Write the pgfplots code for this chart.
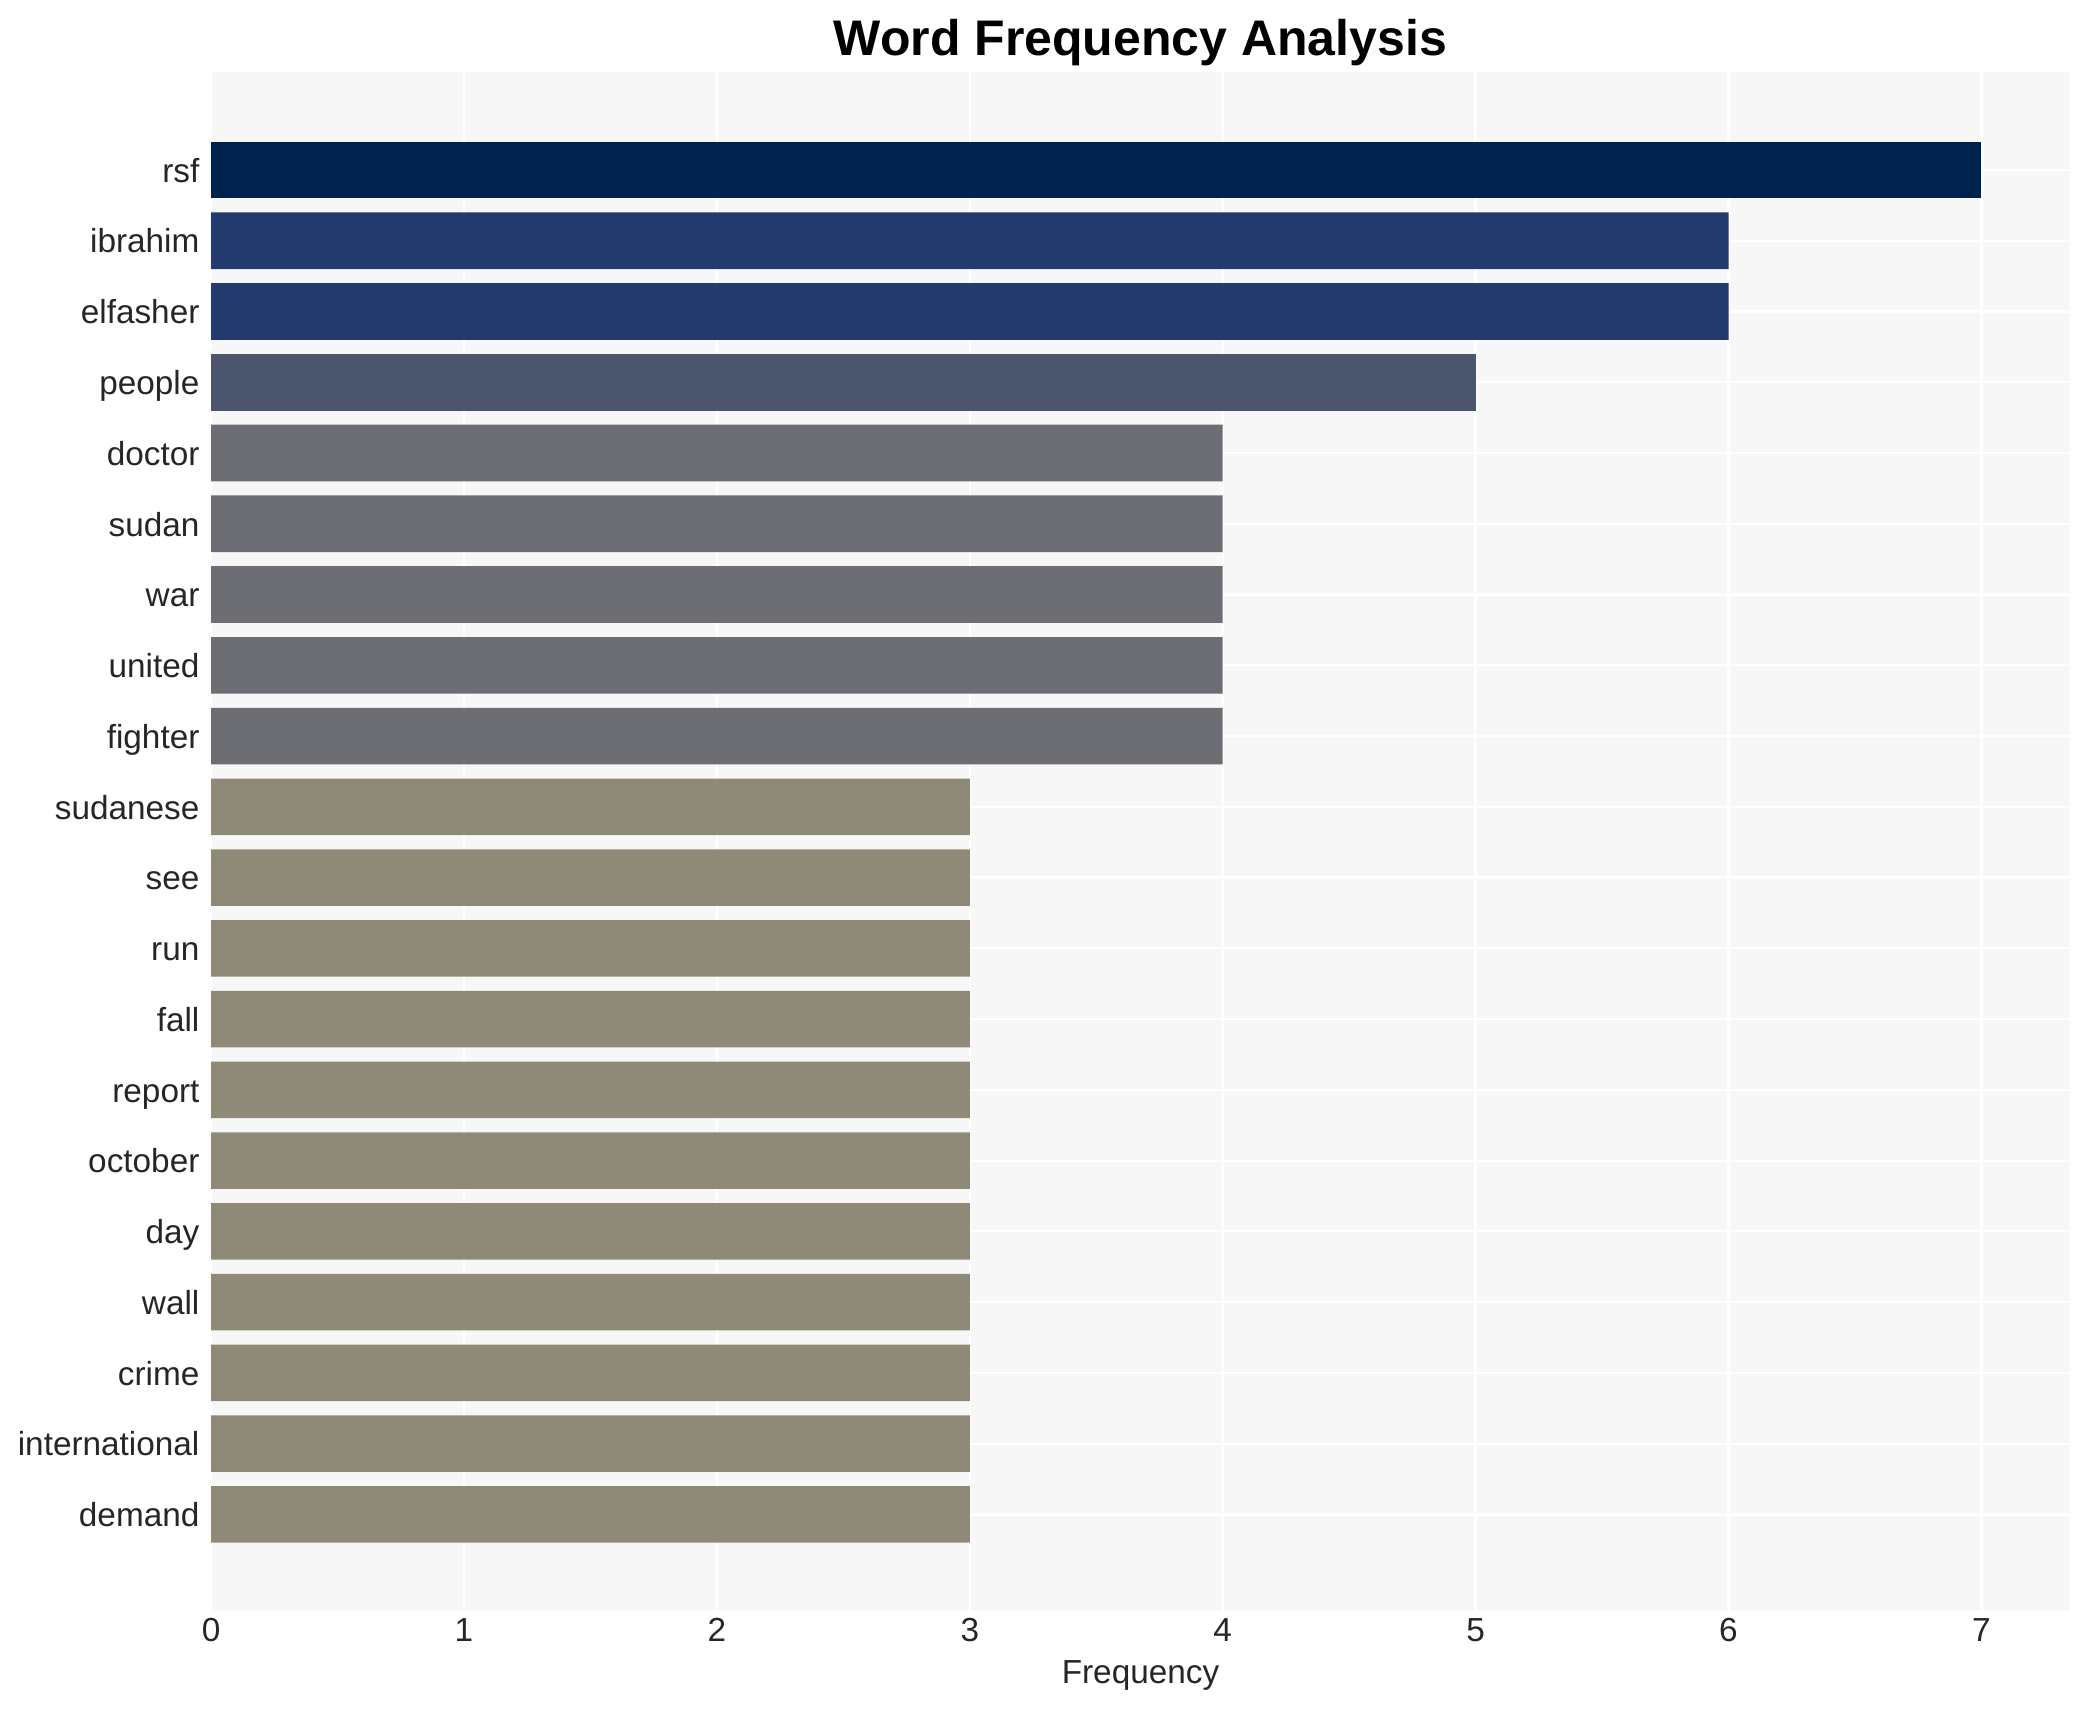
\documentclass[border=0pt]{standalone}
\usepackage{fontspec}
\setmainfont{Liberation Sans}
\usepackage{pgfplots}
\pgfplotsset{compat=1.18}
\definecolor{bgc}{HTML}{F7F7F7}
\definecolor{c7}{HTML}{00224F}
\definecolor{c6}{HTML}{223A6C}
\definecolor{c5}{HTML}{4B556E}
\definecolor{c4}{HTML}{6D6E73}
\definecolor{c3}{HTML}{8F8A78}
\definecolor{tickc}{HTML}{262626}
\begin{document}
\begin{tikzpicture}
\begin{axis}[
  scale only axis, width=669.3bp, height=554.4bp,
  xmin=0, xmax=7.35, ymin=-1.37, ymax=20.39,
  axis background/.style={fill=bgc},
  axis line style={draw=none},
  major tick length=0pt,
  xtick={0,1,2,3,4,5,6,7},
  ytick={0,...,19},
  yticklabels={demand,international,crime,wall,day,october,report,fall,run,see,sudanese,fighter,united,war,sudan,doctor,people,elfasher,ibrahim,rsf},
  grid=major, major grid style={white, line width=0.8bp},
  /pgf/number format/assume math mode=true,
  xticklabel style={font=\fontsize{12bp}{14bp}\selectfont, text=tickc, anchor=base, inner sep=0pt, yshift=-10.8bp},
  yticklabel style={font=\fontsize{12bp}{14bp}\selectfont, text=tickc, anchor=base east, inner sep=0pt, xshift=-4bp, yshift=-4.4bp},
  xlabel={Frequency},
  xlabel style={font=\fontsize{12bp}{14bp}\selectfont, text=tickc, at={(axis description cs:0.5,0)}, anchor=base, inner sep=0pt, yshift=-25.8bp},
  clip=false,
]
\addplot[xbar, bar shift=0pt, bar width=0.8, fill=c7, draw=none] coordinates {(7,19)};
\addplot[xbar, bar shift=0pt, bar width=0.8, fill=c6, draw=none] coordinates {(6,18) (6,17)};
\addplot[xbar, bar shift=0pt, bar width=0.8, fill=c5, draw=none] coordinates {(5,16)};
\addplot[xbar, bar shift=0pt, bar width=0.8, fill=c4, draw=none] coordinates {(4,15) (4,14) (4,13) (4,12) (4,11)};
\addplot[xbar, bar shift=0pt, bar width=0.8, fill=c3, draw=none] coordinates {(3,10) (3,9) (3,8) (3,7) (3,6) (3,5) (3,4) (3,3) (3,2) (3,1) (3,0)};
\node[font=\fontsize{18bp}{21bp}\selectfont\bfseries, anchor=base, inner sep=0pt] at ([yshift=5.8bp]rel axis cs:0.5,1) {Word Frequency Analysis};
\end{axis}
\pgfresetboundingbox
\path[use as bounding box] ([shift={(-76bp,-35.4bp)}]current axis.south west) rectangle ([shift={(7.6bp,25.8bp)}]current axis.north east);
\end{tikzpicture}
\end{document}
